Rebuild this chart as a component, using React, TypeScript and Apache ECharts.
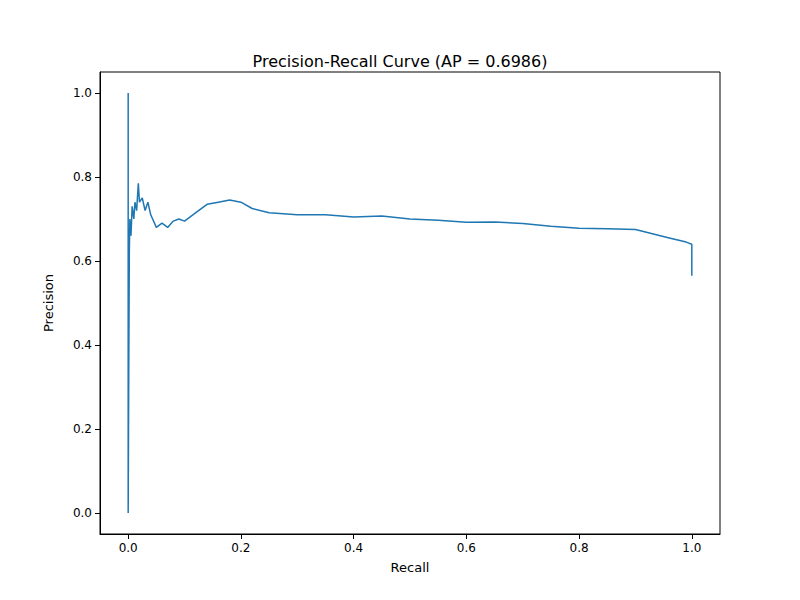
import React, { useEffect, useRef } from "react";
import * as echarts from "echarts";

const recall = [0, 0, 0.001, 0.002, 0.003, 0.005, 0.007, 0.01, 0.012, 0.015, 0.018, 0.02, 0.025, 0.03, 0.035, 0.04, 0.05, 0.06, 0.07, 0.08, 0.09, 0.1, 0.12, 0.14, 0.16, 0.18, 0.2, 0.22, 0.25, 0.3, 0.35, 0.4, 0.45, 0.5, 0.55, 0.6, 0.65, 0.7, 0.75, 0.8, 0.85, 0.9, 0.93, 0.96, 0.99, 1.0, 1.0];
const precision = [1.0, 0.0, 0.33, 0.62, 0.7, 0.66, 0.73, 0.7, 0.74, 0.72, 0.785, 0.74, 0.75, 0.72, 0.74, 0.71, 0.68, 0.69, 0.68, 0.695, 0.7, 0.695, 0.715, 0.735, 0.74, 0.745, 0.74, 0.725, 0.715, 0.71, 0.71, 0.705, 0.707, 0.7, 0.697, 0.692, 0.693, 0.689, 0.683, 0.678, 0.677, 0.675, 0.665, 0.655, 0.645, 0.64, 0.565];
const ticks = [0, 0.2, 0.4, 0.6, 0.8, 1.0];

export default function App() {
  const ref = useRef<HTMLDivElement>(null);
  useEffect(() => {
    const chart = echarts.init(ref.current!, null, { renderer: "svg" });
    const font = "DejaVu Sans";
    const axis = (name: string, gap: number) => ({
      type: "value", min: -0.05, max: 1.05, name, nameLocation: "middle", nameGap: gap,
      nameTextStyle: { fontFamily: font, fontSize: 13, color: "#000" },
      splitLine: { show: false },
      axisLine: { show: true, onZero: false, lineStyle: { color: "#000" } },
      axisTick: { show: true, customValues: ticks, length: 5, inside: false, lineStyle: { color: "#000" } },
      axisLabel: { customValues: ticks, fontFamily: font, fontSize: 12, color: "#000", formatter: (v: number) => v.toFixed(1) },
    });
    chart.setOption({
      animation: false,
      backgroundColor: "#fff",
      title: { text: "Precision-Recall Curve (AP = 0.6986)", left: "center", top: 48, textStyle: { fontFamily: font, fontSize: 16, fontWeight: "normal", color: "#000" } },
      grid: { left: 100, right: 80, top: 72, bottom: 66, show: true, borderColor: "#000", borderWidth: 1 },
      xAxis: axis("Recall", 27),
      yAxis: axis("Precision", 45),
      series: [{ type: "line", showSymbol: false, data: recall.map((r, i) => [r, precision[i]]), lineStyle: { color: "#1f77b4", width: 1.5 } }],
    });
    return () => chart.dispose();
  }, []);
  return <div ref={ref} style={{ position: "fixed", left: 0, top: 0, width: 800, height: 600 }} />;
}
